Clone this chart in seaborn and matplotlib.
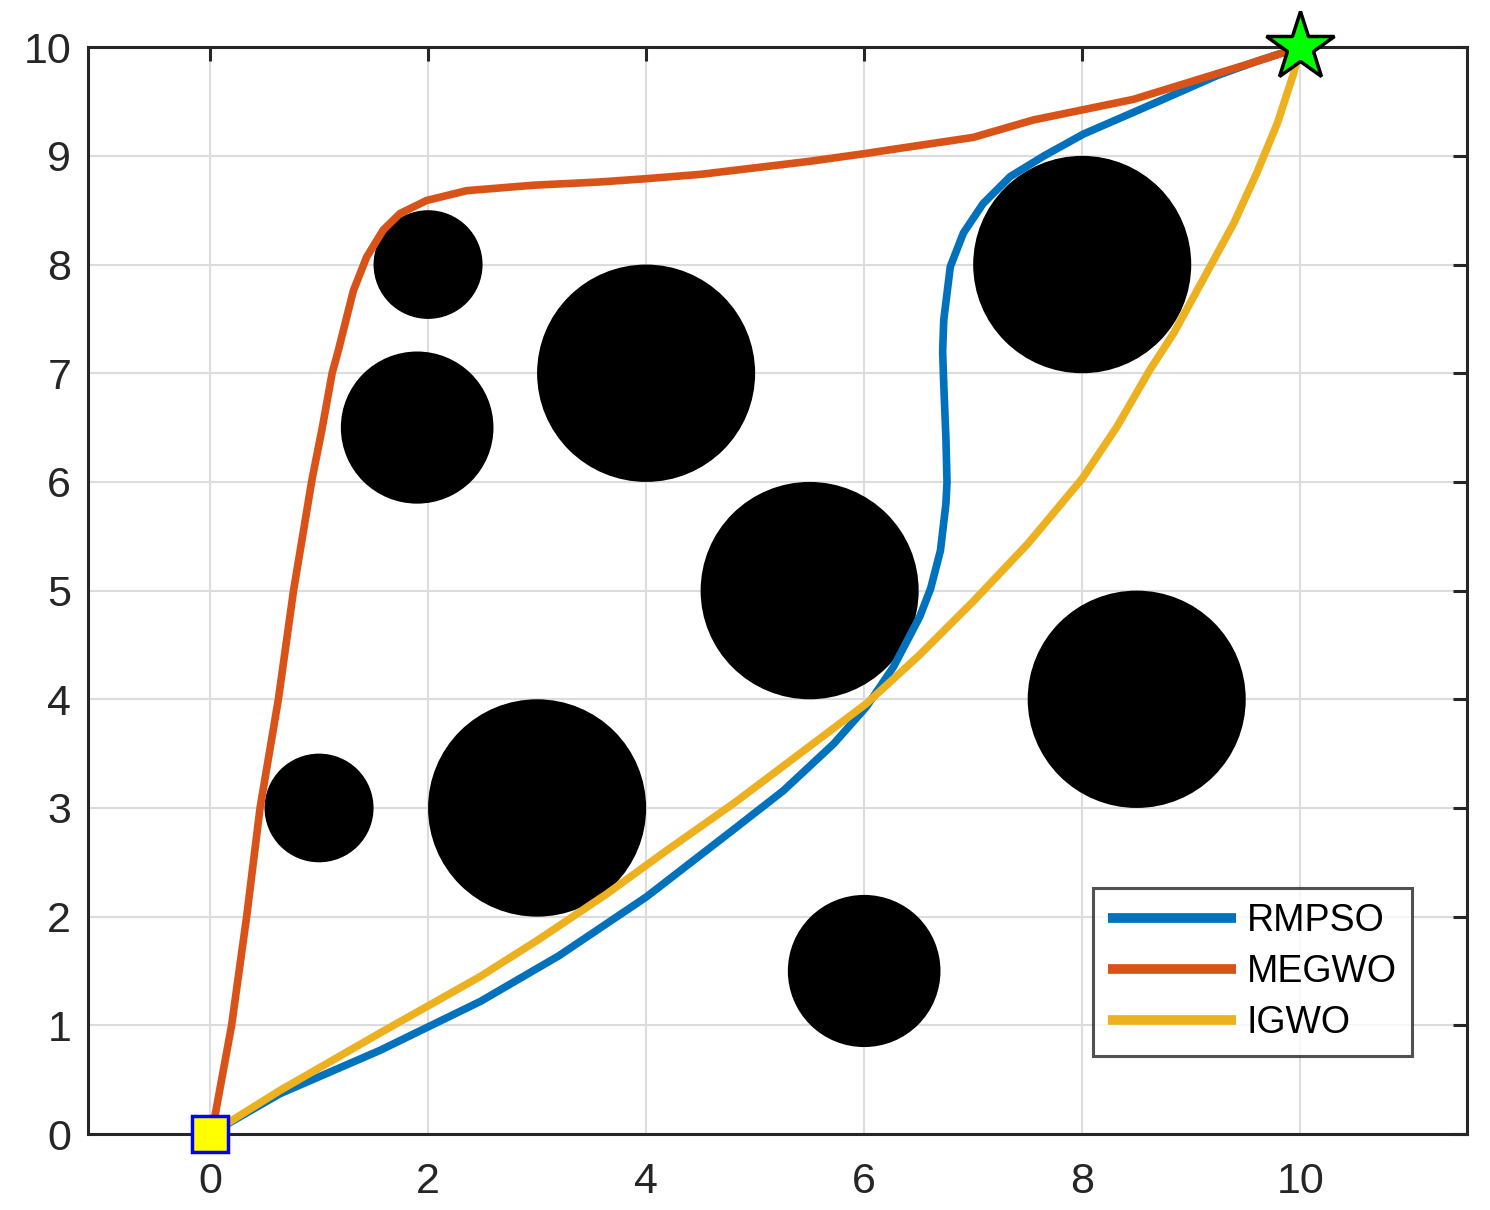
import numpy as np
import pandas as pd
import matplotlib
matplotlib.use("Agg")
import matplotlib.pyplot as plt
import seaborn as sns
from matplotlib.patches import Circle

# obstacles: centre x, centre y, radius
obs_x = [2.0, 1.9, 4.0, 5.5, 8.0, 8.5, 1.0, 3.0, 6.0]
obs_y = [8.0, 6.5, 7.0, 5.0, 8.0, 4.0, 3.0, 3.0, 1.5]
obs_r = [0.5, 0.7, 1.0, 1.0, 1.0, 1.0, 0.5, 1.0, 0.7]

start = (0, 0)
goal = (10, 10)

rmpso_x = [0, 0.64, 1.56, 2.48, 3.2, 4.0, 4.8, 5.26, 5.72, 6.02, 6.27, 6.51, 6.61,
           6.70, 6.75, 6.76, 6.75, 6.73, 6.72, 6.73, 6.79, 6.91, 7.09, 7.34, 7.65,
           8.01, 8.72, 9.24, 9.6, 10]
rmpso_y = [0, 0.37, 0.77, 1.22, 1.64, 2.18, 2.8, 3.16, 3.59, 3.93, 4.30, 4.76, 5.02,
           5.37, 5.8, 6.0, 6.4, 6.9, 7.2, 7.49, 7.98, 8.29, 8.56, 8.81, 9.0, 9.2,
           9.51, 9.74, 9.87, 10]

megwo_x = [0, 0.046, 0.198, 0.336, 0.459, 0.627, 0.766, 0.935, 1.03, 1.12, 1.177,
           1.315, 1.437, 1.59, 1.743, 1.988, 2.355, 2.966, 3.578, 4, 4.5, 5, 5.5, 6,
           6.33, 7, 7.55, 8.47, 9.54, 10]
megwo_y = [0, 0.17, 1.0, 2.0, 3.0, 4.0, 5.0, 6.02, 6.5, 7.0, 7.21, 7.76, 8.07, 8.32,
           8.47, 8.59, 8.68, 8.73, 8.76, 8.79, 8.83, 8.89, 8.95, 9.02, 9.07, 9.17,
           9.33, 9.52, 9.85, 10]

igwo_x = [0, 0.64, 1.56, 2.48, 3.0, 3.64, 4.19, 4.8, 5.41, 6.02, 6.5, 7.0, 7.5, 8.0,
          8.32, 8.62, 8.84, 9.14, 9.39, 9.6, 9.79, 9.94, 10]
igwo_y = [0, 0.40, 0.93, 1.45, 1.78, 2.21, 2.61, 3.04, 3.5, 3.96, 4.4, 4.9, 5.43,
          6.03, 6.51, 7.03, 7.37, 7.92, 8.38, 8.84, 9.30, 9.76, 10]

names = ["RMPSO", "MEGWO", "IGWO"]
colors = ["#0072BD", "#D95319", "#EDB120"]

df = pd.concat([
    pd.DataFrame({"x": rmpso_x, "y": rmpso_y, "alg": "RMPSO"}),
    pd.DataFrame({"x": megwo_x, "y": megwo_y, "alg": "MEGWO"}),
    pd.DataFrame({"x": igwo_x, "y": igwo_y, "alg": "IGWO"}),
], ignore_index=True)

sns.set_style("white")
plt.rcParams["font.family"] = ["Liberation Sans", "DejaVu Sans"]

fig = plt.figure(figsize=(14.9, 12.1), dpi=100)
ax = fig.add_axes([0.059, 0.0628, 0.9256, 0.8982])

for cx, cy, r in zip(obs_x, obs_y, obs_r):
    ax.add_patch(Circle((cx, cy), r, facecolor="black", edgecolor="none", zorder=2))

sns.lineplot(data=df, x="x", y="y", hue="alg", hue_order=names,
             palette=colors, sort=False, estimator=None, linewidth=5.5,
             ax=ax, zorder=3, solid_joinstyle="round", solid_capstyle="round")

ax.plot(*start, marker="s", markersize=26, markerfacecolor="#FFFF00",
        markeredgecolor="#0000FF", markeredgewidth=2.5, clip_on=False, zorder=5)
ax.plot(*goal, marker="*", markersize=52, markerfacecolor="#00FF00",
        markeredgecolor="black", markeredgewidth=2.5, clip_on=False, zorder=5)

ax.set_xlim(-1.12, 11.53)
ax.set_ylim(0, 10)
ax.set_xticks(np.arange(0, 11, 2))
ax.set_yticks(np.arange(0, 11, 1))
ax.set_xlabel("")
ax.set_ylabel("")
ax.grid(True, color="#dcdcdc", linewidth=1.5)
ax.set_axisbelow(True)
for s in ax.spines.values():
    s.set_color("#262626")
    s.set_linewidth(2.2)
ax.tick_params(direction="in", length=10, width=2.2, color="#262626",
               labelsize=31, labelcolor="#262626", top=True, right=True, pad=12)
ax.tick_params(axis="x", pad=20)

leg = ax.legend(loc="lower right", bbox_to_anchor=(0.960, 0.0718), fontsize=27,
                frameon=True, fancybox=False, edgecolor="#262626",
                handlelength=3.4, handletextpad=0.3, borderpad=0.4,
                labelspacing=0.4, borderaxespad=0)
leg.get_frame().set_linewidth(2.2)
for line in leg.get_lines():
    line.set_linewidth(7)
    line.set_solid_capstyle("butt")
for t in leg.get_texts():
    t.set_color("black")

fig.savefig("out.png", dpi=100, facecolor="white")
